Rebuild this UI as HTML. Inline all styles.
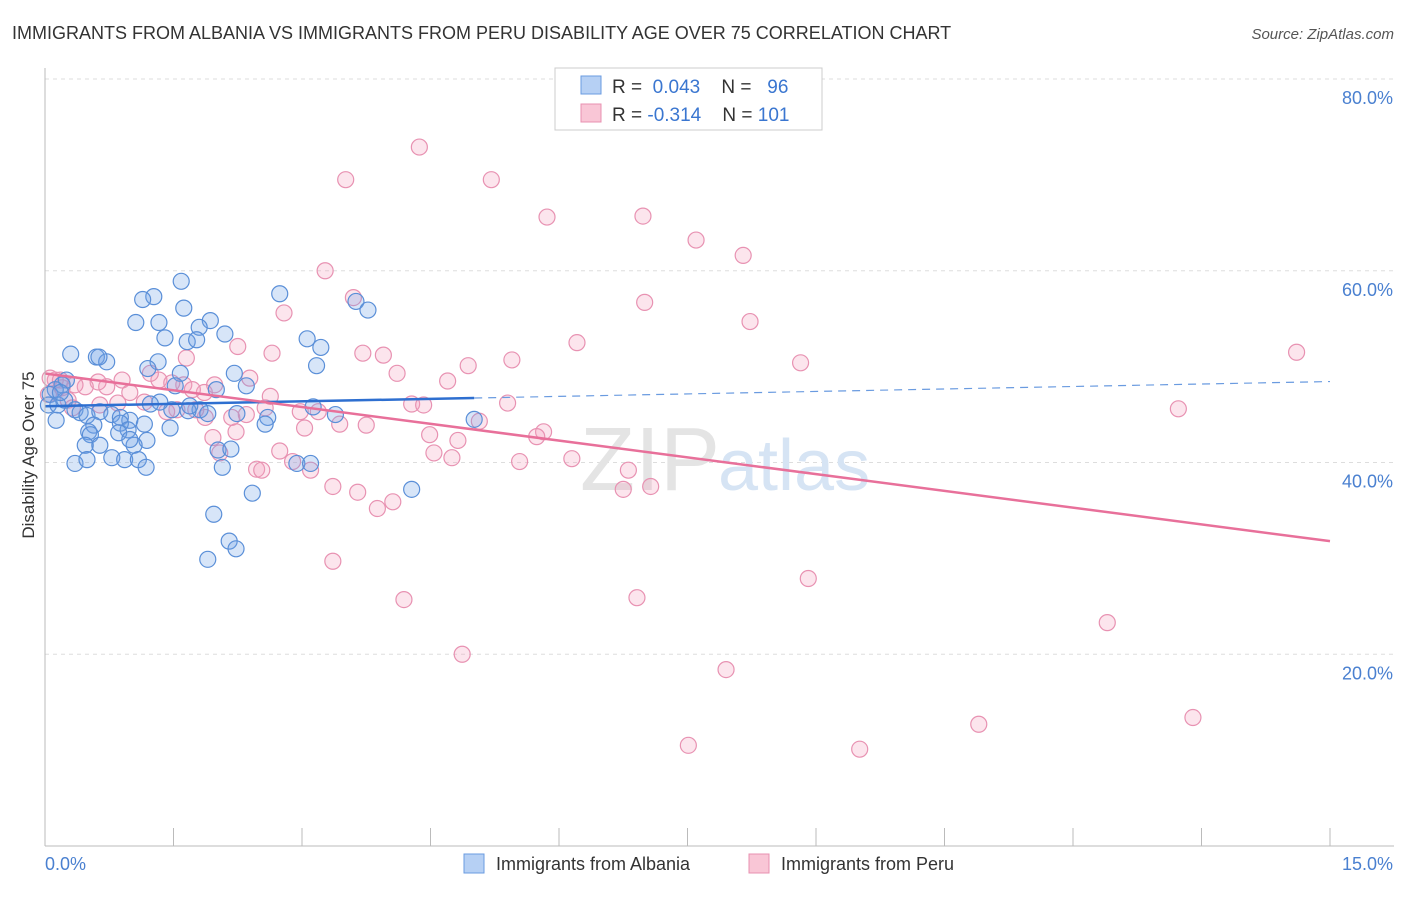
<!DOCTYPE html>
<html><head><meta charset="utf-8"><style>
body{margin:0;background:#fff;font-family:"Liberation Sans",sans-serif;}
svg text{font-family:"Liberation Sans",sans-serif;}
</style></head><body>
<svg id="chart" width="1406" height="892">
<text x="12" y="39" font-size="18" fill="#333">IMMIGRANTS FROM ALBANIA VS IMMIGRANTS FROM PERU DISABILITY AGE OVER 75 CORRELATION CHART</text>
<text x="1394" y="39" font-size="15" fill="#555" font-style="italic" text-anchor="end">Source: ZipAtlas.com</text>
<g id="grid"></g>
<text x="720" y="490" font-size="90" fill="#e4e4e4" text-anchor="end" font-family="Liberation Serif">ZIP</text>
<text x="718" y="490" font-size="72" fill="#d6e4f4">atlas</text>
<g id="pts"></g>
<g id="axes"></g>
<text transform="translate(34,455) rotate(-90)" font-size="17" fill="#333" text-anchor="middle">Disability Age Over 75</text>
<g>
<rect x="555" y="68" width="267" height="62" fill="#fff" stroke="#ccc"/>
<rect x="581" y="76" width="20" height="18" fill="#b6d0f4" stroke="#6a9be0"/>
<rect x="581" y="104" width="20" height="18" fill="#f9c6d6" stroke="#e890b0"/>
<text x="612" y="93" font-size="19" fill="#333">R = <tspan fill="#3a76d0">&#160;0.043</tspan>&#160;&#160;&#160;&#160;N = <tspan fill="#3a76d0">&#160;&#160;96</tspan></text>
<text x="612" y="121" font-size="19" fill="#333">R = <tspan fill="#3a76d0">-0.314</tspan>&#160;&#160;&#160;&#160;N = <tspan fill="#3a76d0">101</tspan></text>
</g>
<g>
<rect x="464" y="854" width="20" height="19" fill="#b6d0f4" stroke="#6a9be0"/>
<text x="496" y="870" font-size="18" fill="#333">Immigrants from Albania</text>
<rect x="749" y="854" width="20" height="19" fill="#f9c6d6" stroke="#e890b0"/>
<text x="781" y="870" font-size="18" fill="#333">Immigrants from Peru</text>
</g>
</svg>
<script>
const yTicks=[20,40,60,80];
const xTickLabels=["0.0%","15.0%"];
const blueX=[1.59,1.27,2.74,1.14,3.63,1.62,3.77,1.06,1.33,1.93,1.80,2.10,1.40,1.66,1.77,3.06,3.22,0.30,0.60,0.72,0.63,1.32,3.17,1.20,1.58,2.21,2.35,2.00,1.52,0.25,0.20,0.12,0.06,0.04,0.15,0.23,0.35,0.41,0.49,0.64,0.78,0.88,0.99,0.57,0.88,0.97,1.16,0.13,0.51,0.53,0.47,0.64,0.86,1.19,1.04,1.46,1.81,1.90,1.67,2.24,2.60,2.57,3.13,3.39,5.01,2.02,2.17,2.07,0.35,0.49,0.78,0.93,1.09,1.18,2.94,3.10,2.42,4.28,1.97,2.15,2.23,1.90,1.48,1.34,1.69,1.23,0.99,0.18];
const blueY=[58.9,57.3,57.6,57.0,56.8,56.1,55.9,54.6,54.6,54.8,54.1,53.4,53.0,52.6,52.8,52.9,52.0,51.3,51.0,50.5,51.0,50.5,50.1,49.8,49.3,49.3,48.0,47.6,48.0,48.6,48.1,47.6,47.1,46.0,46.0,46.5,45.5,45.2,44.9,45.3,45.0,44.7,44.4,43.9,44.1,43.4,44.0,44.4,43.2,42.9,41.8,41.8,43.1,42.3,41.8,43.6,45.5,45.1,45.4,45.1,44.7,44.0,45.8,45.0,44.5,41.3,41.4,39.5,39.9,40.3,40.5,40.3,40.3,39.5,39.9,39.9,36.8,37.2,34.6,31.8,31.0,29.9,45.5,46.3,45.9,46.1,42.4,47.3];
const pinkX=[3.51,4.37,5.21,5.86,6.98,7.60,8.15,3.27,3.60,7.00,8.23,2.79,6.21,14.61,8.82,5.45,4.94,3.95,3.71,2.65,2.25,1.65,4.11,4.70,13.23,4.28,4.42,5.40,5.07,4.49,4.82,5.82,5.74,4.54,4.75,5.54,6.15,6.81,6.75,7.07,3.36,3.65,3.88,4.06,2.74,2.89,3.10,2.47,2.53,1.96,2.04,2.98,3.19,3.03,3.44,2.57,2.18,2.35,1.87,1.76,1.54,1.42,1.62,1.33,1.23,1.86,1.72,1.98,2.39,0.90,0.72,0.62,0.47,0.35,0.20,0.12,0.06,0.27,0.04,0.64,3.36,4.19,4.87,6.91,8.91,12.40,7.95,7.51,9.51,10.90,13.40,3.75,2.63,2.23,0.99,0.85,1.16,1.48,0.18,0.32];
const pinkY=[69.5,72.9,69.5,65.6,65.7,63.2,61.6,60.0,57.2,56.7,54.7,55.6,52.5,51.5,50.4,50.7,50.1,51.2,51.4,51.4,52.1,50.9,49.3,48.5,45.6,46.1,46.0,46.2,44.3,42.9,42.3,43.2,42.7,41.0,40.5,40.1,40.4,39.2,37.2,37.5,37.5,36.9,35.2,35.9,41.2,40.1,39.2,39.3,39.2,42.6,41.0,45.3,45.3,43.6,44.0,45.7,44.7,45.0,44.7,45.5,45.5,45.3,48.1,48.6,49.3,47.3,47.6,48.1,48.8,48.6,47.9,48.4,47.9,48.1,47.8,48.6,48.8,46.5,47.1,46.0,29.7,25.7,20.0,25.9,27.9,23.3,18.4,10.5,10.1,12.7,13.4,43.9,46.9,43.2,47.3,46.2,46.3,48.3,48.6,45.7];
const X0=45,X1=1330,Y0=846,YT=79;
function sx(v){return X0+(v/15)*(X1-X0);}
function sy(v){return Y0-(v/80)*(Y0-YT);}
const NS="http://www.w3.org/2000/svg";
function mk(tag,attrs,parent){const e=document.createElementNS(NS,tag);for(const k in attrs)e.setAttribute(k,attrs[k]);parent.appendChild(e);return e;}
const grid=document.getElementById('grid'),axes=document.getElementById('axes'),pts=document.getElementById('pts');
yTicks.forEach(t=>{
 const l=mk('line',{x1:X0,x2:1394,y1:sy(t),y2:sy(t),stroke:'#ddd','stroke-dasharray':'4,4'},grid);
 
 
 const tx=mk('text',{x:1393,y:sy(t)+25,'font-size':18,fill:'#4a80d0','text-anchor':'end'},axes);
 tx.textContent=t.toFixed(1)+'%';
 
 
});
const ax=mk('line',{x1:X0,x2:X0,y1:68,y2:Y0,stroke:'#bbb'},axes);


const bx=mk('line',{x1:X0,x2:1394,y1:Y0,y2:Y0,stroke:'#bbb'},axes);


for(let i=0;i<=10;i++){
 const t=mk('line',{x1:sx(i*1.5),x2:sx(i*1.5),y1:Y0,y2:Y0-18,stroke:'#bbb'},axes);
 
 
}
const xl0=mk('text',{x:45,y:870,'font-size':18,fill:'#4a80d0'},axes);xl0.textContent=xTickLabels[0];


const xl1=mk('text',{x:1393,y:870,'font-size':18,fill:'#4a80d0','text-anchor':'end'},axes);xl1.textContent=xTickLabels[1];


function draw(xs,ys,fill,stroke,name){
 xs.forEach((x,i)=>{
  const c=mk('circle',{cx:sx(x),cy:sy(ys[i]),r:8,fill:fill,stroke:stroke,'stroke-width':1.2},pts);
  
  
 });
}
draw(pinkX,pinkY,'rgba(244,160,190,0.28)','#e892b2','peru-point');
draw(blueX,blueY,'rgba(110,160,230,0.28)','#5a8fd8','albania-point');
function reg(xs,ys){const n=xs.length;let mx=0,my=0;for(let i=0;i<n;i++){mx+=xs[i];my+=ys[i];}mx/=n;my/=n;let a=0,b=0;for(let i=0;i<n;i++){a+=(xs[i]-mx)*(ys[i]-my);b+=(xs[i]-mx)**2;}const s=a/b;return [s,my-s*mx];}
const [bs,bi]=reg(blueX,blueY),bmax=Math.max(...blueX);
const bl=mk('line',{x1:sx(0),y1:sy(bi),x2:sx(bmax),y2:sy(bi+bs*bmax),stroke:'#2e6fd0','stroke-width':2.5},pts);


const bd=mk('line',{x1:sx(bmax),y1:sy(bi+bs*bmax),x2:sx(15),y2:sy(bi+bs*15),stroke:'#6a9be0','stroke-width':1.2,'stroke-dasharray':'8,6'},pts);


const [ps,pi]=reg(pinkX,pinkY);
const pl=mk('line',{x1:sx(0),y1:sy(pi),x2:sx(15),y2:sy(pi+ps*15),stroke:'#e8709a','stroke-width':2.5},pts);


</script>
</body></html>
